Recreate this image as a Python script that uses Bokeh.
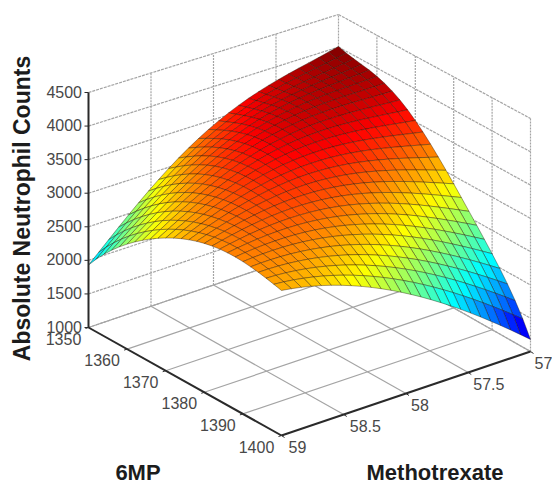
import numpy as np
from bokeh.plotting import figure
from bokeh.models import Range1d, ColumnDataSource
from bokeh.embed import file_html
from bokeh.resources import INLINE
from bokeh.core.properties import value

# Tick labels
MP_TICKS = [1350, 1360, 1370, 1380, 1390, 1400]
MTX_TICKS = [59, 58.5, 58, 57.5, 57]
Z_TICKS = [1000, 1500, 2000, 2500, 3000, 3500, 4000, 4500]

# Surface heights at the tick intersections.
# Edge values are read directly; interior values are estimated less directly.
# rows: Methotrexate (59 .. 57), columns: 6MP (1350 .. 1400)
ANC_59 = [1930, 2557, 2960, 3190, 3230, 3115]
ANC_585 = [2772, 3197, 3401, 3400, 3235, 2897]
ANC_58 = [3417, 3641, 3642, 3416, 3045, 2483]
ANC_575 = [3785, 3827, 3650, 3218, 2665, 1900]
ANC_57 = [4010, 3873, 3520, 2880, 2146, 1180]
ANC = np.array([ANC_59, ANC_585, ANC_58, ANC_575, ANC_57], float)

# 3D view: page position of the four box corners (floor and top of each)
FLOOR = {"L": (88, 327), "F": (281, 435), "R": (530, 351), "B": (338, 242)}
TOP = {"L": (88, 92), "F": (281, 195), "R": (530, 118), "B": (338, 14)}


def project(mp, mtx, z):
    r = (np.asarray(mp, float) - 1350) / 50
    s = (59 - np.asarray(mtx, float)) / 2
    t = (np.asarray(z, float) - 1000) / 3500

    def blend(c, i):
        return ((1 - r) * (1 - s) * c["L"][i] + r * (1 - s) * c["F"][i]
                + r * s * c["R"][i] + (1 - r) * s * c["B"][i])
    x = blend(FLOOR, 0) * (1 - t) + blend(TOP, 0) * t
    y = blend(FLOOR, 1) * (1 - t) + blend(TOP, 1) * t
    return x, y


def jet(t):
    t = float(np.clip(t, 0, 1))
    r = np.clip(min(4 * t - 1.5, -4 * t + 4.5), 0, 1)
    g = np.clip(min(4 * t - 0.5, -4 * t + 3.5), 0, 1)
    b = np.clip(min(4 * t + 0.5, -4 * t + 2.5), 0, 1)
    return "#%02x%02x%02x" % (int(r * 255), int(g * 255), int(b * 255))


def lagrange_matrix(nodes, pts):
    nodes = np.asarray(nodes, float)
    out = np.ones((len(pts), len(nodes)))
    for j, nj in enumerate(nodes):
        for k, nk in enumerate(nodes):
            if k != j:
                out[:, j] *= (pts - nk) / (nj - nk)
    return out


# Facet drawing only: the read table above is subdivided so the surface shows
# the reference's fine mesh. These in-between facets are interpolated, not read.
N = 25
mp_f = np.linspace(1350, 1400, N + 1)
mtx_f = np.linspace(59, 57, N + 1)
Z = lagrange_matrix(MTX_TICKS, mtx_f) @ ANC @ lagrange_matrix(MP_TICKS, mp_f).T
MP, MTX = np.meshgrid(mp_f, mtx_f)
SX, SY = project(MP, MTX, Z)
zlo, zhi = 1000.0, 4000.0   # colour limits matched to the reference's colours

xs, ys, cols = [], [], []
for i in range(N - 1, -1, -1):      # far Methotrexate side first
    for j in range(N):              # far 6MP side first
        xs.append([SX[i, j], SX[i, j + 1], SX[i + 1, j + 1], SX[i + 1, j]])
        ys.append([SY[i, j], SY[i, j + 1], SY[i + 1, j + 1], SY[i + 1, j]])
        zc = (Z[i, j] + Z[i, j + 1] + Z[i + 1, j + 1] + Z[i + 1, j]) / 4
        cols.append(jet((zc - zlo) / (zhi - zlo)))

p = figure(width=552, height=485, output_backend="svg", toolbar_location=None,
           x_range=Range1d(0, 552), y_range=Range1d(485, 0),
           min_border=0, outline_line_color=None)
p.axis.visible = False
p.grid.visible = False
p.background_fill_color = "white"

GRID = dict(line_color="#a4a4a4", line_width=1.2)


def seg(a, b, **kw):
    xa, ya = project(*a)
    xb, yb = project(*b)
    p.line([float(xa), float(xb)], [float(ya), float(yb)], **kw)


# back walls
for z in Z_TICKS:
    seg((1350, 59, z), (1350, 57, z), line_dash="3 1", **GRID)
    seg((1350, 57, z), (1400, 57, z), line_dash="3 1", **GRID)
for m in MTX_TICKS[1:]:
    seg((1350, m, 1000), (1350, m, 4500), line_dash="2 1", **GRID)
for mp in MP_TICKS[1:]:
    seg((mp, 57, 1000), (mp, 57, 4500), line_dash="2 1", **GRID)
# floor
for m in MTX_TICKS[1:]:
    seg((1350, m, 1000), (1400, m, 1000), **GRID)
for mp in MP_TICKS[:-1]:
    seg((mp, 59, 1000), (mp, 57, 1000), **GRID)

# surface
src = ColumnDataSource(dict(xs=xs, ys=ys, c=cols))
p.patches("xs", "ys", source=src, fill_color="c", line_color="#201000",
          line_alpha=0.55, line_width=0.7)

# axes
AX = dict(line_color="#2a2a2a", line_width=2)
seg((1350, 59, 1000), (1350, 59, 4500), **AX)
seg((1350, 59, 1000), (1400, 59, 1000), **AX)
seg((1400, 59, 1000), (1400, 57, 1000), **AX)
for z in Z_TICKS:
    x0, y0 = project(1350, 59, z)
    p.line([float(x0) - 4, float(x0)], [float(y0), float(y0)], line_color="#2a2a2a", line_width=1)
for mp in MP_TICKS:
    x0, y0 = project(mp, 59, 1000)
    p.line([float(x0) - 3, float(x0)], [float(y0) + 1, float(y0)], line_color="#2a2a2a", line_width=1)
for m in MTX_TICKS:
    x0, y0 = project(1400, m, 1000)
    p.line([float(x0), float(x0) + 3], [float(y0), float(y0) + 2], line_color="#2a2a2a", line_width=1)

FONT = value("Liberation Sans")
TICK = dict(text_font=FONT, text_font_size="16px", text_color="#484848", text_baseline="middle")

zx, zy = project(1350, 59, np.array(Z_TICKS))
p.text(zx - 6.5, zy - 1, text=[str(v) for v in Z_TICKS], text_align="right", **TICK)
mx, my = project(np.array(MP_TICKS), 59, 1000)
p.text(mx - 25, my + 11, text=[str(v) for v in MP_TICKS], text_align="center", **TICK)
tx, ty = project(1400, np.array(MTX_TICKS), 1000)
p.text(tx + np.array([7, 6, 5, 5, 4]), ty + 11, text=[str(v) for v in MTX_TICKS], text_align="left", **TICK)

LAB = dict(text_font=FONT, text_font_style="bold",
           text_color="#1c1c1c", text_baseline="middle", text_align="center")
p.text([137.5], [472], text=["6MP"], text_font_size="22px", **LAB)
p.text([434.5], [472], text=["Methotrexate"], text_font_size="22px", **LAB)
p.text([21], [208], text=["Absolute Neutrophil Counts"], angle=np.pi / 2, text_font_size="23px", **LAB)

open("out.html", "w").write(file_html(p, INLINE))
